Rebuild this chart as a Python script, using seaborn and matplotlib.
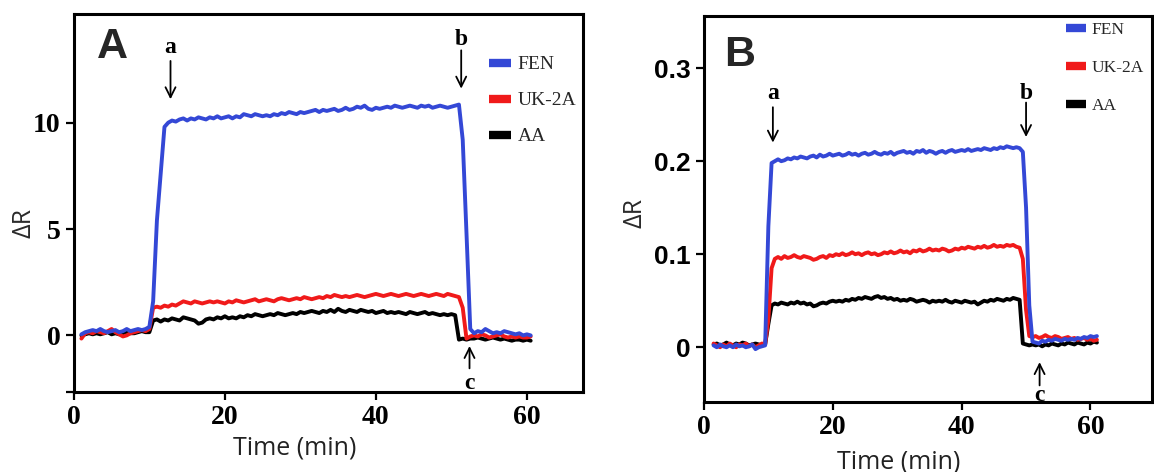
import numpy as np
import pandas as pd
import matplotlib
matplotlib.use("Agg")
import matplotlib.pyplot as plt
from matplotlib.lines import Line2D
import seaborn as sns

# ---------------- data ----------------
compounds = ["FEN", "UK-2A", "AA"]
colors = {"FEN": "#3448d6", "UK-2A": "#f01a1a", "AA": "#000000"}

# Panel A: sampled every 0.5 min from 1.0 to 60.5 min
time_a = np.arange(1.0, 61.0, 0.5)
fen_a = [0.05, 0.15, 0.2, 0.25, 0.2, 0.3, 0.2, 0.15, 0.2, 0.25, 0.15, 0.2, 0.3, 0.2, 0.25, 0.3, 0.25, 0.3,
         0.4, 1.6, 5.4, 7.6, 9.8, 10.0,
         10.1, 10.05, 10.15, 10.2, 10.1, 10.2, 10.15, 10.25, 10.2, 10.15,
         10.25, 10.2, 10.3, 10.2, 10.25, 10.3, 10.2, 10.3, 10.25, 10.4,
         10.35, 10.3, 10.4, 10.35, 10.3, 10.35, 10.3, 10.4, 10.35, 10.45,
         10.4, 10.5, 10.45, 10.4, 10.5, 10.45, 10.5, 10.55, 10.6, 10.5,
         10.6, 10.55, 10.6, 10.65, 10.55, 10.6, 10.7, 10.6, 10.65, 10.75,
         10.7, 10.8, 10.65, 10.6, 10.7, 10.65, 10.7, 10.75, 10.7, 10.8,
         10.75, 10.7, 10.75, 10.8, 10.75, 10.7, 10.8, 10.75, 10.8, 10.7,
         10.75, 10.8, 10.75, 10.7, 10.75, 10.8,
         10.85, 9.2, 4.8, 0.3,
         0.1, 0.2, 0.15, 0.3, 0.2, 0.1, 0.15, 0.1, 0.2, 0.15, 0.1, 0.05, 0.1, 0.0, 0.05, 0.0]
uk_a = [-0.15, 0.1, 0.15, 0.1, 0.2, 0.15, 0.1, 0.2, 0.3, 0.15, 0.05, -0.05, 0.0, 0.1, 0.15, 0.2, 0.25, 0.2,
        0.3, 1.3, 1.35, 1.3, 1.4, 1.35,
        1.45, 1.4, 1.5, 1.6, 1.55, 1.5, 1.6, 1.55, 1.5, 1.55,
        1.6, 1.55, 1.6, 1.55, 1.5, 1.6, 1.55, 1.65, 1.6, 1.55,
        1.6, 1.65, 1.7, 1.6, 1.65, 1.7, 1.65, 1.6, 1.7, 1.75,
        1.7, 1.65, 1.7, 1.75, 1.7, 1.8, 1.75, 1.7, 1.75, 1.8,
        1.75, 1.85, 1.8, 1.9, 1.85, 1.8, 1.85, 1.8, 1.85, 1.9,
        1.85, 1.8, 1.85, 1.9, 1.95, 1.9, 1.85, 1.9, 1.95, 1.9,
        1.85, 1.9, 1.95, 1.9, 1.85, 1.9, 1.95, 1.9, 1.85, 1.9,
        1.95, 1.9, 1.85, 1.95, 1.9, 1.85,
        1.8, 1.3, -0.15, -0.05,
        0.0, -0.05, 0.05, 0.0, -0.1, -0.05, 0.0, 0.05, -0.05, -0.1, -0.05, -0.1, -0.05, -0.1, -0.1, -0.05]
aa_a = [0.0, 0.05, 0.1, 0.05, 0.1, 0.05, 0.1, 0.15, 0.05, 0.1, 0.05, 0.1, 0.15, 0.1, 0.1, 0.15, 0.2, 0.15,
        0.15, 0.7, 0.75, 0.65, 0.75, 0.7,
        0.8, 0.75, 0.7, 0.85, 0.8, 0.75, 0.7, 0.55, 0.6, 0.75,
        0.8, 0.75, 0.85, 0.8, 0.9, 0.8, 0.85, 0.8, 0.9, 0.85,
        0.95, 0.9, 1.0, 0.95, 0.9, 0.95, 1.0, 0.95, 1.05, 1.0,
        0.95, 1.0, 1.05, 1.0, 1.1, 1.05, 1.1, 1.15, 1.1, 1.05,
        1.15, 1.1, 1.2, 1.1, 1.25, 1.15, 1.1, 1.2, 1.15, 1.1,
        1.2, 1.15, 1.1, 1.15, 1.05, 1.1, 1.15, 1.05, 1.1, 1.05,
        1.1, 1.05, 1.0, 1.1, 1.05, 1.0, 1.05, 1.1, 1.0, 1.05,
        1.0, 0.95, 1.0, 0.95, 1.0, 0.95,
        -0.2, -0.15, -0.2, -0.15,
        -0.15, -0.1, -0.15, -0.2, -0.15, -0.1, -0.15, -0.2, -0.15, -0.2, -0.25, -0.2, -0.2, -0.25, -0.2, -0.25]

# Panel B: sampled every 0.5 min from 1.5 to 61.0 min
time_b = np.arange(1.5, 61.5, 0.5)
fen_b = [0.002, 0.0, 0.003, 0.001, 0.0, 0.002, 0.0, 0.003, 0.001, 0.002, 0.0, 0.001, 0.003, -0.002, 0.0, 0.001, 0.002,
         0.13, 0.198, 0.200,
         0.202, 0.200, 0.201, 0.203, 0.202, 0.204, 0.203, 0.205, 0.204, 0.203,
         0.205, 0.206, 0.204, 0.207, 0.205, 0.206, 0.208, 0.206, 0.207, 0.208,
         0.206, 0.207, 0.209, 0.207, 0.208, 0.206, 0.208, 0.209, 0.207, 0.208,
         0.210, 0.208, 0.207, 0.209, 0.208, 0.210, 0.207, 0.209, 0.210, 0.211,
         0.209, 0.210, 0.208, 0.211, 0.210, 0.212, 0.209, 0.211, 0.210, 0.208,
         0.210, 0.211, 0.209, 0.211, 0.212, 0.210, 0.211, 0.212, 0.211, 0.213,
         0.211, 0.212, 0.213, 0.212, 0.214, 0.213, 0.212, 0.214, 0.213, 0.215,
         0.214, 0.216, 0.215, 0.214, 0.215,
         0.214, 0.210, 0.150, 0.045, 0.006,
         0.005, 0.004, 0.007, 0.006, 0.008, 0.007, 0.009, 0.008, 0.007, 0.009,
         0.008, 0.009, 0.008, 0.010, 0.009, 0.011, 0.010, 0.012, 0.011, 0.012]
uk_b = [0.004, 0.002, 0.0, 0.003, 0.001, 0.004, 0.002, 0.0, 0.003, 0.002, 0.004, 0.001, 0.003, 0.0, 0.002, 0.004, 0.003,
        0.030, 0.085, 0.095,
        0.097, 0.095, 0.098, 0.096, 0.097, 0.099, 0.097, 0.096, 0.098, 0.097,
        0.096, 0.094, 0.095, 0.097, 0.098, 0.096, 0.099, 0.098, 0.100, 0.099,
        0.101, 0.099, 0.100, 0.102, 0.100, 0.101, 0.099, 0.101, 0.102, 0.100,
        0.101, 0.099, 0.100, 0.102, 0.101, 0.103, 0.101, 0.102, 0.104, 0.102,
        0.103, 0.101, 0.104, 0.103, 0.105, 0.103, 0.104, 0.106, 0.104, 0.105,
        0.104, 0.106, 0.105, 0.103, 0.104, 0.106, 0.105, 0.107, 0.106, 0.108,
        0.107, 0.106, 0.108, 0.107, 0.109, 0.107, 0.108, 0.110, 0.108, 0.109,
        0.108, 0.110, 0.109, 0.110, 0.108,
        0.107, 0.095, 0.040, 0.012, 0.011,
        0.012, 0.010, 0.011, 0.013, 0.011, 0.010, 0.012, 0.011, 0.009, 0.010,
        0.011, 0.009, 0.010, 0.008, 0.009, 0.010, 0.008, 0.009, 0.007, 0.008]
aa_b = [0.003, 0.004, 0.002, 0.003, 0.005, 0.003, 0.002, 0.004, 0.003, 0.005, 0.004, 0.002, 0.003, 0.004, 0.003, 0.002, 0.003,
        0.025, 0.045, 0.047,
        0.046, 0.048, 0.047, 0.046, 0.048, 0.047, 0.049, 0.047, 0.048, 0.046,
        0.047, 0.044, 0.045, 0.047, 0.048, 0.047, 0.049, 0.050, 0.049, 0.050,
        0.049, 0.051, 0.050, 0.052, 0.051, 0.053, 0.052, 0.054, 0.053, 0.052,
        0.054, 0.055, 0.053, 0.054, 0.052, 0.053, 0.051, 0.052, 0.050, 0.051,
        0.050, 0.052, 0.051, 0.049, 0.050, 0.051, 0.050, 0.048, 0.050, 0.049,
        0.050, 0.049, 0.051, 0.049, 0.048, 0.050, 0.049, 0.048, 0.050, 0.049,
        0.048, 0.049, 0.046, 0.048, 0.050, 0.049, 0.051, 0.050, 0.052, 0.051,
        0.050, 0.052, 0.051, 0.053, 0.052,
        0.051, 0.004, 0.003, 0.002, 0.003,
        0.002, 0.003, 0.001, 0.003, 0.002, 0.004, 0.003, 0.002, 0.004, 0.003,
        0.005, 0.004, 0.003, 0.005, 0.004, 0.003, 0.005, 0.004, 0.006, 0.005]

yticks_a = [0, 5, 10]
yticks_b = [0.0, 0.1, 0.2, 0.3]
xticks = [0, 20, 40, 60]


def long_frame(time, series):
    parts = [pd.DataFrame({"time": time, "dR": vals, "compound": name})
             for name, vals in series.items()]
    return pd.concat(parts, ignore_index=True)


df_a = long_frame(time_a, {"FEN": fen_a, "UK-2A": uk_a, "AA": aa_a})
df_b = long_frame(time_b, {"FEN": fen_b, "UK-2A": uk_b, "AA": aa_b})

# ---------------- style ----------------
sns.set_style("ticks")
plt.rcParams["font.family"] = ["Open Sans", "DejaVu Sans"]
SERIF = "Liberation Serif"
SANS_BOLD = "Liberation Sans"

fig = plt.figure(figsize=(11.54, 4.72), dpi=100)
ax_a = fig.add_axes([0.064, 0.170, 0.441, 0.800])
ax_b = fig.add_axes([0.610, 0.148, 0.388, 0.818])


def draw_panel(ax, df):
    sns.lineplot(data=df, x="time", y="dR", hue="compound",
                 hue_order=["AA", "UK-2A", "FEN"], palette=colors,
                 estimator=None, sort=False, lw=2.8, legend=False, ax=ax)
    for s in ax.spines.values():
        s.set_visible(True)
        s.set_linewidth(2.2)
        s.set_color("black")
    ax.tick_params(direction="out", length=6, width=1.6, colors="black",
                   labelsize=20, top=False, right=False)


def add_legend(ax, anchor, size, spacing):
    handles = [Line2D([], [], color=colors[c], lw=6, solid_capstyle="butt") for c in compounds]
    ax.legend(handles, compounds, loc="upper left", bbox_to_anchor=anchor,
              frameon=False, handlelength=1.15, handletextpad=0.35,
              labelspacing=spacing, borderpad=0, borderaxespad=0,
              prop={"family": SERIF, "size": size})


def mark(ax, label, x, y_text, y_from, y_to):
    ax.annotate("", xy=(x, y_to), xytext=(x, y_from),
                arrowprops=dict(arrowstyle="->", lw=1.3, color="black",
                                shrinkA=0, shrinkB=0, mutation_scale=18))
    ax.text(x, y_text, label, ha="center", va="center", fontsize=17,
            fontweight="bold", family=SERIF, color="black")


# ---------------- panel A ----------------
draw_panel(ax_a, df_a)
ax_a.set_xlim(0, 67.4)
ax_a.set_ylim(-2.65, 15.1)
ax_a.set_xticks(xticks)
ax_a.set_yticks([-2.65] + yticks_a)
ax_a.set_yticklabels([""] + [str(v) for v in yticks_a])
for lbl in ax_a.get_xticklabels() + ax_a.get_yticklabels():
    lbl.set_family(SERIF)
    lbl.set_fontweight("bold")
ax_a.set_xlabel("Time (min)", fontsize=18, color="#222222")
ax_a.xaxis.set_label_coords(0.434, -0.115)
ax_a.set_ylabel("ΔR", fontsize=18, color="#2a2a2a", va="center")
ax_a.yaxis.set_label_coords(-0.098, 0.447)
ax_a.text(0.075, 0.914, "A", transform=ax_a.transAxes, ha="center", va="center",
          fontsize=31, fontweight="bold", family=SANS_BOLD)
add_legend(ax_a, (0.815, 0.89), 14, 0.95)
mark(ax_a, "a", 12.8, 13.55, 12.9, 11.1)
mark(ax_a, "b", 51.3, 13.9, 13.4, 11.6)
mark(ax_a, "c", 52.4, -2.25, -1.55, -0.5)

# ---------------- panel B ----------------
draw_panel(ax_b, df_b)
ax_b.set_xlim(0, 69.5)
ax_b.set_ylim(-0.059, 0.356)
ax_b.set_xticks(xticks)
ax_b.set_yticks(yticks_b)
ax_b.set_yticklabels(["0", "0.1", "0.2", "0.3"])
for lbl in ax_b.get_xticklabels():
    lbl.set_family(SERIF)
    lbl.set_fontweight("bold")
for lbl in ax_b.get_yticklabels():
    lbl.set_family(SANS_BOLD)
    lbl.set_fontweight("bold")
    lbl.set_fontsize(19)
ax_b.set_xlabel("Time (min)", fontsize=18, color="#222222")
ax_b.xaxis.set_label_coords(0.434, -0.122)
ax_b.set_ylabel("ΔR", fontsize=18, color="#2a2a2a", va="center")
ax_b.yaxis.set_label_coords(-0.154, 0.49)
ax_b.text(0.08, 0.9, "B", transform=ax_b.transAxes, ha="center", va="center",
          fontsize=31, fontweight="bold", family=SANS_BOLD)
add_legend(ax_b, (0.808, 0.985), 12.5, 1.25)
mark(ax_b, "a", 10.7, 0.273, 0.258, 0.220)
mark(ax_b, "b", 50.0, 0.273, 0.263, 0.226)
mark(ax_b, "c", 52.1, -0.052, -0.041, -0.016)

fig.savefig("out.png", dpi=100)
